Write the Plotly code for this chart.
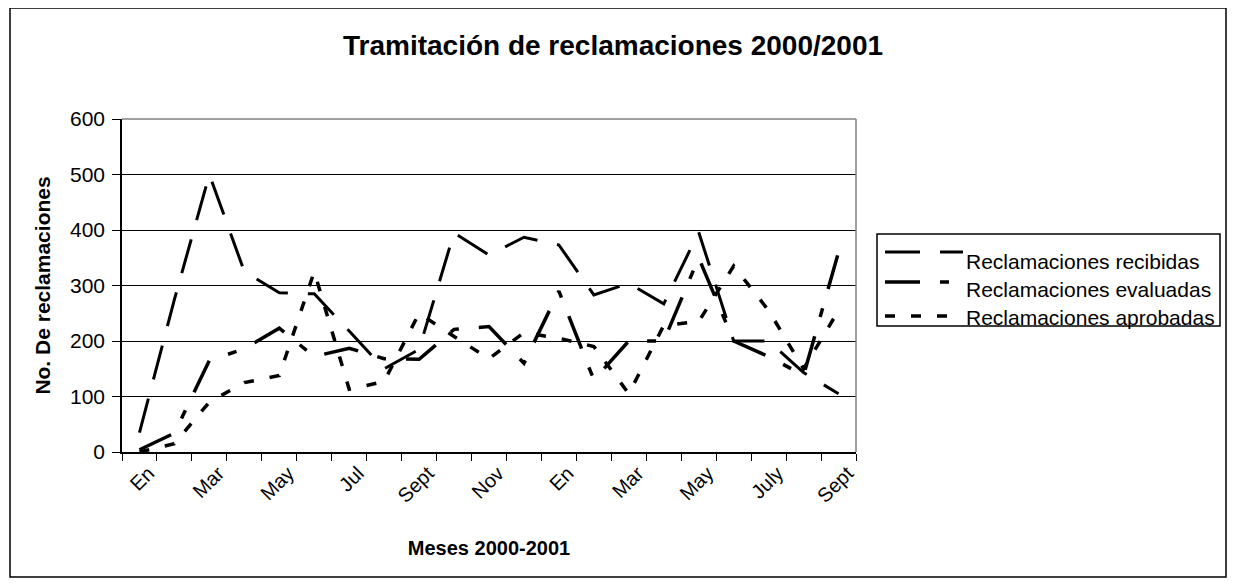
import plotly.graph_objects as go

# ---- data ----
meses = ["En-2000", "Feb-2000", "Mar-2000", "Abr-2000", "May-2000", "Jun-2000",
         "Jul-2000", "Ago-2000", "Sept-2000", "Oct-2000", "Nov-2000", "Dic-2000",
         "En-2001", "Feb-2001", "Mar-2001", "Abr-2001", "May-2001", "Jun-2001",
         "Jul-2001", "Ago-2001", "Sept-2001"]
etiquetas = ["En", "", "Mar", "", "May", "", "Jul", "", "Sept", "", "Nov", "",
             "En", "", "Mar", "", "May", "", "July", "", "Sept"]
recibidas = [35, 275, 500, 325, 287, 285, 218, 150, 185, 395, 355, 387, 373,
             283, 304, 267, 396, 200, 200, 143, 105]
evaluadas = [4, 34, 165, 186, 223, 172, 187, 168, 167, 221, 226, 160, 290,
             130, 200, 200, 350, 200, 172, 138, 360]
aprobadas = [0, 15, 90, 125, 138, 325, 113, 127, 250, 208, 168, 215, 205,
             190, 105, 228, 235, 335, 255, 150, 255]
y_ticks = [0, 100, 200, 300, 400, 500, 600]
series_names = ["Reclamaciones recibidas", "Reclamaciones evaluadas",
                "Reclamaciones aprobadas"]

FONT = "Liberation Sans, Arial, sans-serif"
DASHES = ["35px,20px", "35px,20px,9px,20px", "10px,16px"]
WIDTHS = [3, 3.5, 3.5]

# page body has an 8px margin: figure is 8px smaller and shifted
OFF = 8
W, H = 1236 - OFF, 583 - OFF
L, R, T, B = 122, 856, 119, 452          # plot area in screen pixels
pw, ph = R - L, B - T


def px(x):
    return (x - L) / pw


def py(y):
    return (B - y) / ph


fig = go.Figure()
for name, vals, dash, wdt in zip(series_names, [recibidas, evaluadas, aprobadas],
                                 DASHES, WIDTHS):
    fig.add_trace(go.Scatter(x=meses, y=vals, mode="lines", name=name,
                             showlegend=False,
                             line=dict(color="black", width=wdt, dash=dash)))

shapes = [
    # grey top and right border of the plot area
    dict(type="line", xref="paper", yref="paper", x0=0, x1=1, y0=1, y1=1,
         line=dict(color="#808080", width=1.5)),
    dict(type="line", xref="paper", yref="paper", x0=1, x1=1, y0=0, y1=1,
         line=dict(color="#808080", width=1.5)),
    # outer chart frame
    dict(type="rect", xref="paper", yref="paper", x0=px(10), x1=px(1226),
         y0=py(577), y1=py(8), line=dict(color="black", width=1.5),
         fillcolor="rgba(0,0,0,0)", layer="below"),
    # legend box
    dict(type="rect", xref="paper", yref="paper", x0=px(877), x1=px(1220),
         y0=py(326), y1=py(234), line=dict(color="black", width=1.5),
         fillcolor="white", layer="above"),
]
annotations = []
line_y = [252, 282, 316]
text_y = [261, 289, 317]
for name, dash, wdt, ly, ty in zip(series_names, DASHES, WIDTHS, line_y, text_y):
    shapes.append(dict(type="line", xref="paper", yref="paper",
                       x0=px(885), x1=px(963), y0=py(ly), y1=py(ly),
                       line=dict(color="black", width=wdt, dash=dash)))
    annotations.append(dict(text=name, xref="paper", yref="paper",
                            x=px(964), y=py(ty), xanchor="left", yanchor="middle",
                            showarrow=False, font=dict(size=21, family=FONT,
                                                       color="black")))

n = len(meses)
fig.update_layout(
    width=W, height=H,
    margin=dict(l=L - OFF, r=W - (R - OFF), t=T - OFF, b=H - (B - OFF),
                autoexpand=False),
    paper_bgcolor="white", plot_bgcolor="white",
    font=dict(family=FONT, color="black", size=21),
    title=dict(text="<b>Tramitación de reclamaciones 2000/2001</b>",
               x=(613 - OFF) / W, xanchor="center", y=1 - (45 - OFF) / H,
               yanchor="middle", yref="container",
               font=dict(size=28, family=FONT, color="black")),
    showlegend=False,
    xaxis=dict(type="category", categoryorder="array", categoryarray=meses,
               range=[-0.5, n - 0.5],
               tickvals=meses, ticktext=etiquetas, tickson="boundaries",
               ticks="outside", ticklen=7, tickcolor="black", tickwidth=1,
               tickangle=-45, tickfont=dict(size=20, family=FONT),
               ticklabelshift=9,
               showline=True, linecolor="black", linewidth=1.5,
               showgrid=False, zeroline=False, automargin=False,
               title=dict(text="<b>Meses 2000-2001</b>", standoff=35,
                          font=dict(size=20, family=FONT))),
    yaxis=dict(range=[0, 600], tickvals=y_ticks, ticks="outside", ticklen=8,
               tickcolor="black", tickwidth=1, showline=True, linecolor="black",
               linewidth=1.5, showgrid=True, gridcolor="black", gridwidth=1,
               zeroline=False, automargin=False, ticklabelstandoff=3,
               tickfont=dict(size=21, family=FONT),
               title=dict(text="<b>No. De reclamaciones</b>", standoff=14,
                          font=dict(size=21, family=FONT))),
    shapes=shapes,
    annotations=annotations,
)

fig.write_html("out.html")
